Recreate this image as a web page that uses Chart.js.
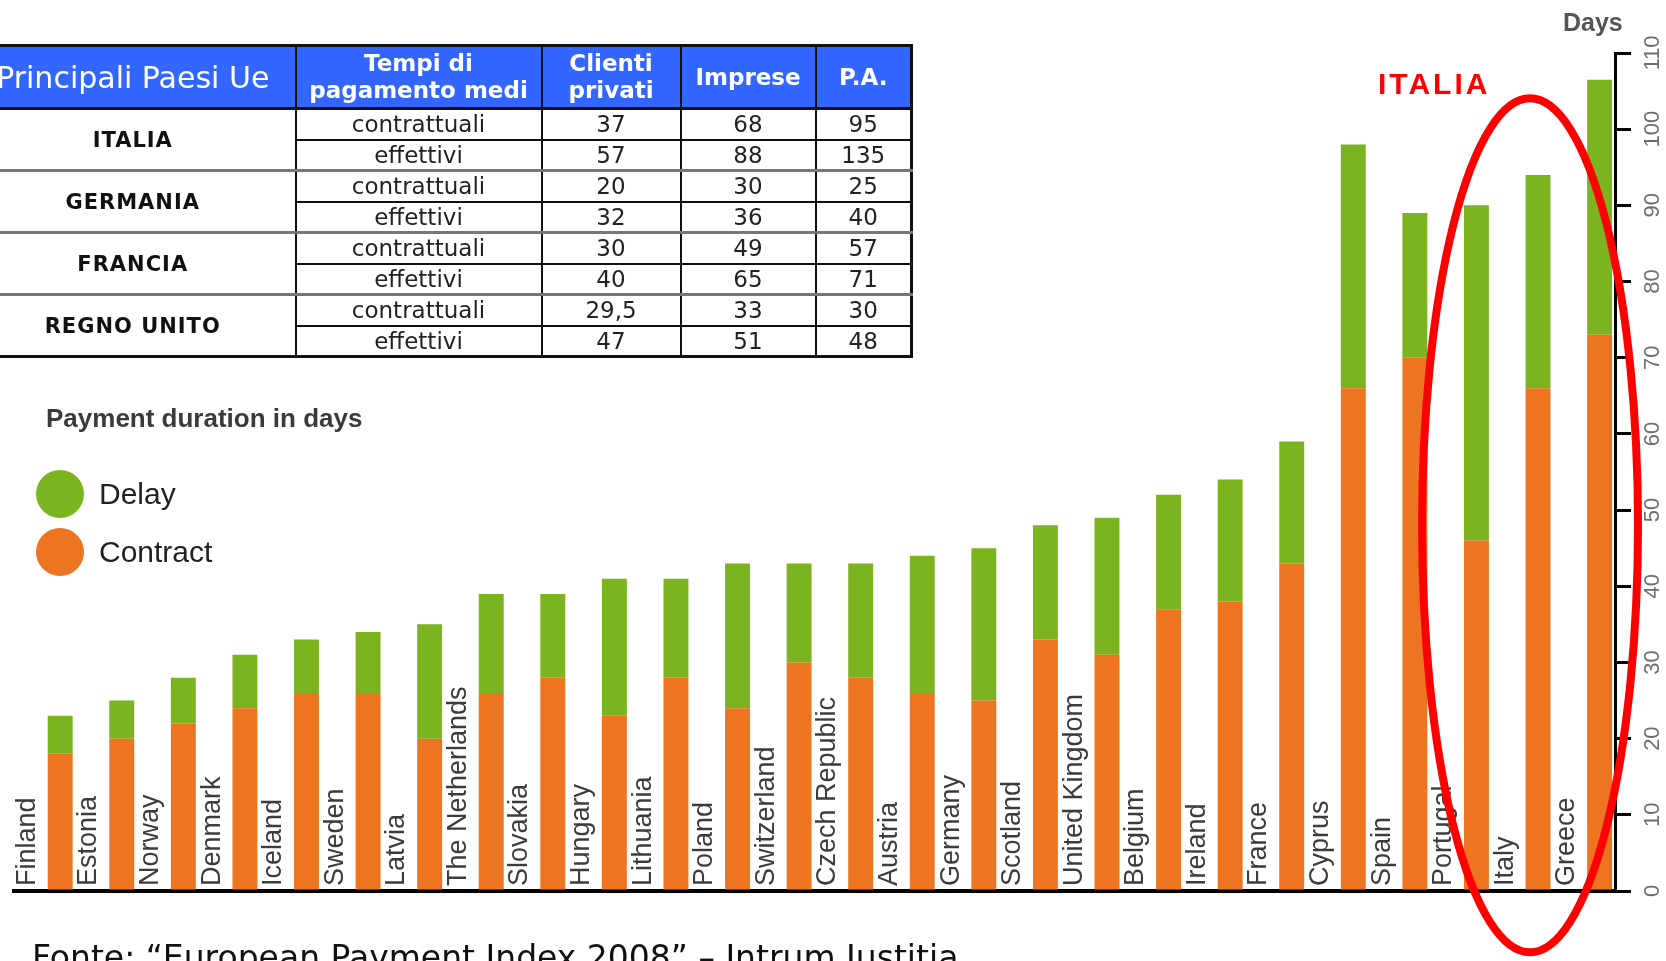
<!DOCTYPE html>
<html>
<head>
<meta charset="utf-8">
<script src="https://cdn.jsdelivr.net/npm/chart.js@4.4.1/dist/chart.umd.min.js"></script>
<style>
  html, body { margin: 0; padding: 0; background: #fff; }
  body { width: 1666px; height: 961px; position: relative; overflow: hidden; font-family: 'Liberation Sans', Arial, sans-serif; }
  #chart { position: absolute; left: 0; top: 0; }
  .txt { position: absolute; white-space: nowrap; line-height: 1; }
  #tbl { position: absolute; left: -32px; top: 44px; border-collapse: collapse; table-layout: fixed; width: 942px;
         font-family: 'DejaVu Sans', sans-serif; border: 3px solid #111; }
  #tbl th { background: #3366ff; color: #fff; font-weight: bold; font-size: 23px; line-height: 27px; height: 60px; padding: 0;
            border: 2px solid #111; border-bottom: 3px solid #111; white-space: nowrap; }
  #tbl th.big { font-weight: normal; font-size: 30px; }
  #tbl td { font-size: 23px; color: #222; text-align: center; height: 28.5px; padding: 0; border: 2px solid #111; line-height: 28px; }
  #tbl td.country { font-weight: bold; font-size: 21px; letter-spacing: 1px; color: #111; }
  #tbl tr.first td { border-top: 3px solid #777; }
  #legend .item { position: absolute; left: 36px; }
  #legend .dot { position: absolute; width: 48px; height: 48px; border-radius: 50%; left: 0; }
  #legend .lbl { position: absolute; left: 63px; font-size: 30px; color: #222; line-height: 1; white-space: nowrap; }
</style>
</head>
<body>
<canvas id="chart" width="1666" height="961"></canvas>
<table id="tbl"></table>
<div class="txt" style="left:46px; top:405px; font-size:26px; font-weight:bold; color:#3a3a3a;">Payment duration in days</div>
<div id="legend"></div>
<div class="txt" style="left:1563px; top:10px; font-size:25px; font-weight:bold; color:#555;">Days</div>
<div class="txt" style="left:1378px; top:69px; font-size:30px; font-weight:bold; color:#ff0000; letter-spacing:3px;">ITALIA</div>
<div class="txt" style="left:32px; top:941px; font-size:33px; color:#111; font-family:'DejaVu Sans', sans-serif;">Fonte: “European Payment Index 2008” – Intrum Justitia</div>
<script>
// chart data
const countries = ['Finland', 'Estonia', 'Norway', 'Denmark', 'Iceland', 'Sweden', 'Latvia', 'The Netherlands',
  'Slovakia', 'Hungary', 'Lithuania', 'Poland', 'Switzerland', 'Czech Republic', 'Austria', 'Germany',
  'Scotland', 'United Kingdom', 'Belgium', 'Ireland', 'France', 'Cyprus', 'Spain', 'Portugal', 'Italy', 'Greece'];
const contractDays = [18, 20, 22, 24, 26, 26, 20, 26, 28, 23, 28, 24, 30, 28, 26, 25, 33, 31, 37, 38, 43, 66, 70, 46, 66, 73];
const delayDays = [5, 5, 6, 7, 7, 8, 15, 13, 11, 18, 13, 19, 13, 15, 18, 20, 15, 18, 15, 16, 16, 32, 19, 44, 28, 33.5];
const yTicks = [0, 10, 20, 30, 40, 50, 60, 70, 80, 90, 100, 110];

// table data
const tableHeader = ['Principali Paesi Ue', 'Tempi di<br>pagamento medi', 'Clienti<br>privati', 'Imprese', 'P.A.'];
const tableCountries = ['ITALIA', 'GERMANIA', 'FRANCIA', 'REGNO UNITO'];
const tableTypes = ['contrattuali', 'effettivi'];
const clientiPrivati = [['37', '57'], ['20', '32'], ['30', '40'], ['29,5', '47']];
const imprese = [['68', '88'], ['30', '36'], ['49', '65'], ['33', '51']];
const pubblicaAmm = [['95', '135'], ['25', '40'], ['57', '71'], ['30', '48']];

const orange = '#ed7521';
const green = '#7bb41f';

// build table
let html = '<colgroup><col style="width:326px"><col style="width:246px"><col style="width:139px"><col style="width:135px"><col style="width:96px"></colgroup>';
html += '<tr>' + tableHeader.map((h, i) => '<th' + (i === 0 ? ' class="big"' : '') + '>' + h + '</th>').join('') + '</tr>';
tableCountries.forEach((c, i) => {
  tableTypes.forEach((t, j) => {
    html += '<tr' + (j === 0 && i > 0 ? ' class="first"' : '') + '>';
    if (j === 0) html += '<td class="country" rowspan="2">' + c + '</td>';
    html += '<td>' + t + '</td><td>' + clientiPrivati[i][j] + '</td><td>' + imprese[i][j] + '</td><td>' + pubblicaAmm[i][j] + '</td></tr>';
  });
});
document.getElementById('tbl').innerHTML = html;

// legend
const legendItems = [['Delay', green, 470], ['Contract', orange, 528]];
document.getElementById('legend').innerHTML = legendItems.map(l =>
  '<div class="item" style="top:' + l[2] + 'px"><div class="dot" style="background:' + l[1] + '"></div>' +
  '<div class="lbl" style="top:9px">' + l[0] + '</div></div>').join('');

// labels, rotated tick labels and the red ellipse
const overlay = {
  id: 'overlay',
  afterDatasetsDraw(chart) {
    const ctx = chart.ctx;
    const area = chart.chartArea;
    const spacer = chart.getDatasetMeta(0).data;
    const y = chart.scales.y;
    ctx.save();
    ctx.fillStyle = '#3c3c3c';
    ctx.font = '27px "Liberation Sans", Arial, sans-serif';
    ctx.textAlign = 'left';
    ctx.textBaseline = 'middle';
    countries.forEach((c, i) => {
      ctx.save();
      ctx.translate(spacer[i].x - 2, area.bottom - 5);
      ctx.rotate(-Math.PI / 2);
      ctx.fillText(c, 0, 0);
      ctx.restore();
    });

    ctx.fillStyle = '#6e6e6e';
    ctx.font = '22px "Liberation Sans", Arial, sans-serif';
    ctx.textAlign = 'center';
    yTicks.forEach(v => {
      ctx.save();
      ctx.translate(area.right + 38, y.getPixelForValue(v));
      ctx.rotate(-Math.PI / 2);
      ctx.fillText(String(v), 0, 0);
      ctx.restore();
    });

    const italy = chart.getDatasetMeta(1).data[countries.indexOf('Italy')];
    ctx.strokeStyle = '#ff0000';
    ctx.lineWidth = 8;
    ctx.beginPath();
    ctx.ellipse(italy.x - 8, y.getPixelForValue(48), 108, 427, 0, 0, Math.PI * 2);
    ctx.stroke();
    ctx.restore();
  }
};

new Chart(document.getElementById('chart'), {
  type: 'bar',
  data: {
    labels: countries,
    datasets: [
      { label: 'spacer', data: countries.map(() => 0), stack: 'labels', backgroundColor: 'rgba(0,0,0,0)' },
      { label: 'Contract', data: contractDays, stack: 'days', backgroundColor: orange },
      { label: 'Delay', data: delayDays, stack: 'days', backgroundColor: green }
    ]
  },
  options: {
    responsive: false,
    devicePixelRatio: 1,
    animation: false,
    layout: { padding: { top: 53, left: 14, right: 0, bottom: 0 } },
    datasets: { bar: { categoryPercentage: 1, barPercentage: 0.81 } },
    plugins: { legend: { display: false }, tooltip: { enabled: false } },
    scales: {
      x: {
        stacked: true,
        ticks: { display: false },
        grid: { display: false },
        border: { display: true, color: '#000', width: 4 },
        afterFit(s) { s.height = 70; }
      },
      y: {
        position: 'right',
        stacked: true,
        min: 0,
        max: 110,
        ticks: { display: false, stepSize: 10 },
        grid: { drawOnChartArea: false, drawTicks: true, tickLength: 16, color: '#000', lineWidth: 3 },
        border: { display: true, color: '#000', width: 3 },
        afterFit(s) { s.width = 51; }
      }
    }
  },
  plugins: [overlay]
});
</script>
</body>
</html>
